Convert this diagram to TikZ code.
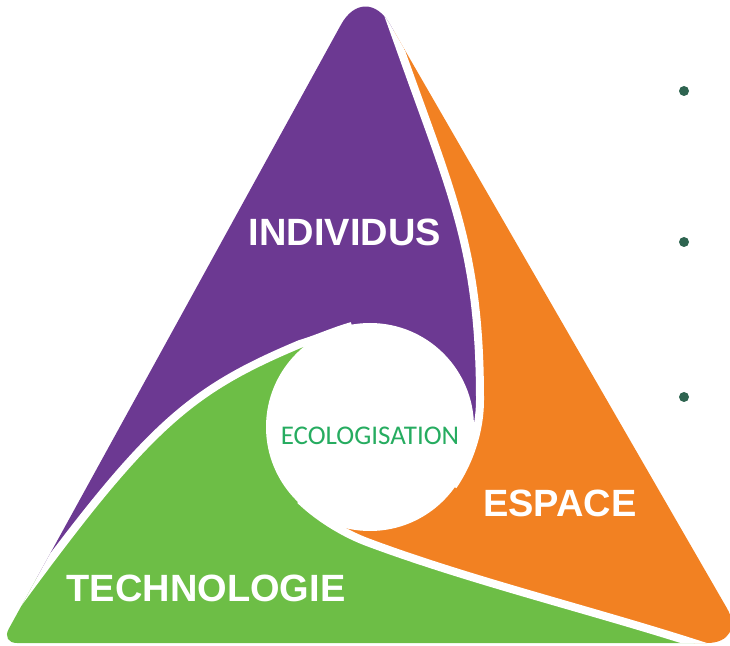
\documentclass[tikz,border=0pt]{standalone}
\usepackage{fontspec}
\setmainfont{Liberation Sans}
\newfontfamily\ecofont{Carlito}
\definecolor{IndPurple}{RGB}{108, 57, 146}
\definecolor{EspOrange}{RGB}{242, 129, 34}
\definecolor{TechGreen}{RGB}{109, 190, 70}
\definecolor{EcoGreen}{RGB}{38, 172, 96}
\definecolor{DotGreen}{RGB}{46, 100, 80}
\usepackage{tikz}

\tikzset{
    whitegap/.style={draw=white, line width=8pt},
    bigword/.style={font=\bfseries\fontsize{38}{40}\selectfont, text=white},
}

\begin{document}
\begin{tikzpicture}[x=1pt, y=1pt]
    \useasboundingbox (0,0) rectangle (730,645);

    % Centre of the white disc
    \coordinate (C) at (370,218);

    % Curve between purple and orange
    \coordinate (a0) at (453,159); \coordinate (a1) at (470,184);
    \coordinate (a2) at (480,215); \coordinate (a3) at (480,245);
    \coordinate (a4) at (480,395); \coordinate (a5) at (451,453);
    \coordinate (a6) at (401,594); \coordinate (a7) at (380,653);

    % Curve between orange and green
    \coordinate (b0) at (300,145); \coordinate (b1) at (321.6,124.3);
    \coordinate (b2) at (348.3,110); \coordinate (b3) at (367,103);
    \coordinate (b4) at (470,64.4); \coordinate (b5) at (595,34);
    \coordinate (b6) at (700,0);   \coordinate (b7) at (760,-19);

    % Curve between green and purple
    \coordinate (c0) at (352,319); \coordinate (c1) at (334,314);
    \coordinate (c2) at (317,306); \coordinate (c3) at (300,301);
    \coordinate (c4) at (193,256); \coordinate (c5) at (151,222);
    \coordinate (c6) at (28,55);   \coordinate (c7) at (-20,-10);

    \begin{scope}
        \clip (374,2) [rounded corners=40pt] -- (747,2) -- (556,333)
            [rounded corners=50pt] -- (365,664) -- (183,333)
            [rounded corners=16pt] -- (1,2) -- cycle;

        % Three parts
        \fill[IndPurple] (C) -- (c0) .. controls (c1) and (c2) .. (c3)
            .. controls (c4) and (c5) .. (c6) -- (c7) -- (-60,-10) -- (-60,720)
            -- (380,720) -- (a7) -- (a6) .. controls (a5) and (a4) .. (a3)
            .. controls (a2) and (a1) .. (a0) -- cycle;
        \fill[EspOrange] (C) -- (a0) .. controls (a1) and (a2) .. (a3)
            .. controls (a4) and (a5) .. (a6) -- (a7) -- (380,720) -- (800,720)
            -- (800,-40) -- (b7) -- (b6) .. controls (b5) and (b4) .. (b3)
            .. controls (b2) and (b1) .. (b0) -- cycle;
        \fill[TechGreen] (C) -- (b0) .. controls (b1) and (b2) .. (b3)
            .. controls (b4) and (b5) .. (b6) -- (b7) -- (760,-60) -- (-60,-60)
            -- (-60,-10) -- (c7) -- (c6) .. controls (c5) and (c4) .. (c3)
            .. controls (c2) and (c1) .. (c0) -- cycle;

        % White gaps and disc
        \draw[whitegap] (a0) .. controls (a1) and (a2) .. (a3)
            .. controls (a4) and (a5) .. (a6) -- (a7);
        \draw[whitegap] (b0) .. controls (b1) and (b2) .. (b3)
            .. controls (b4) and (b5) .. (b6) -- (b7);
        \draw[whitegap] (c0) .. controls (c1) and (c2) .. (c3)
            .. controls (c4) and (c5) .. (c6) -- (c7);
        \fill[white] (C) circle[radius=104];
    \end{scope}

    % Labels
    \node[bigword] (indiv) at (345,413) {INDIVIDUS};
    \node[bigword] (espace) at (560,142) {ESPACE};
    \node[bigword] (techno) at (206,57) {TECHNOLOGIE};
    \node[font=\ecofont\fontsize{27}{29}\selectfont, text=EcoGreen] (eco) at (370,209) {ECOLOGISATION};

    % Bullets
    \foreach \y [count=\k] in {554,403,248} {
        \node[circle, fill=DotGreen, inner sep=0pt, minimum size=10pt] (dot\k) at (684,\y) {};
    }
\end{tikzpicture}
\end{document}
